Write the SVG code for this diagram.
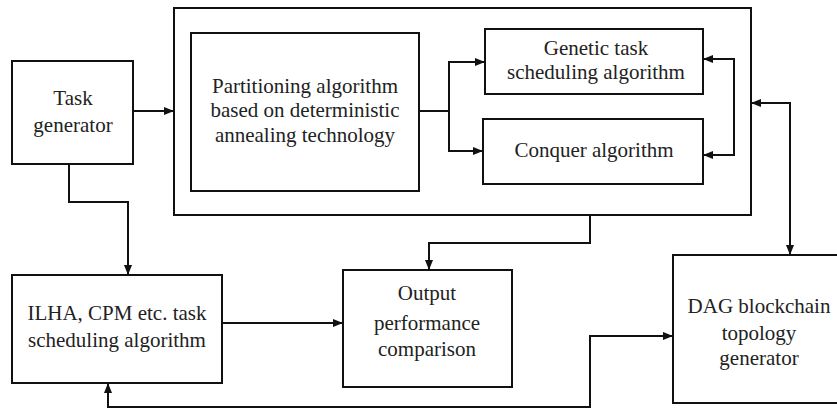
<svg xmlns="http://www.w3.org/2000/svg" width="837" height="409" viewBox="0 0 837 409">
<style>
.box{fill:#fff;stroke:#111;stroke-width:2}
.t{font-family:'Liberation Serif','Times New Roman','DejaVu Serif',serif;font-size:21px;fill:#222;text-anchor:middle}
.c{fill:none;stroke:#111;stroke-width:2}
</style>
<defs>
<marker id="ah" viewBox="0 0 10 8" refX="10" refY="4" markerWidth="10" markerHeight="8" markerUnits="userSpaceOnUse" orient="auto-start-reverse">
<path d="M0,0 L10,4 L0,8 Z" fill="#111"/>
</marker>
</defs>
<rect width="837" height="409" fill="#fff"/>
<g id="outer"><rect class="box" x="174" y="8" width="577" height="207"/></g>
<g id="task-generator"><rect class="box" x="12" y="61" width="121" height="103"/>
<text class="t" font-family="Liberation Serif, serif" x="73" y="105">Task</text><text class="t" font-family="Liberation Serif, serif" x="73" y="132">generator</text></g>
<g id="partitioning"><rect class="box" x="191" y="33" width="228" height="158"/>
<text class="t" x="305" y="93">Partitioning algorithm</text><text class="t" x="305" y="117">based on deterministic</text><text class="t" x="305" y="142">annealing technology</text></g>
<g id="genetic"><rect class="box" x="485" y="29" width="218" height="65"/>
<text class="t" x="596" y="55">Genetic task</text><text class="t" x="596" y="79">scheduling algorithm</text></g>
<g id="conquer"><rect class="box" x="483" y="119" width="220" height="65"/>
<text class="t" x="594" y="157">Conquer algorithm</text></g>
<g id="ilha"><rect class="box" x="12" y="275" width="210" height="108"/>
<text class="t" x="117" y="320">ILHA, CPM etc. task</text><text class="t" x="117" y="347">scheduling algorithm</text></g>
<g id="output"><rect class="box" x="343" y="270" width="169" height="117"/>
<text class="t" x="427" y="300">Output</text><text class="t" x="427" y="330">performance</text><text class="t" x="427" y="356">comparison</text></g>
<g id="dag"><rect class="box" x="673" y="255" width="175" height="148"/>
<text class="t" x="759" y="313">DAG blockchain</text><text class="t" x="759" y="340">topology</text><text class="t" x="759" y="365">generator</text></g>
<g id="connectors">
<path class="c" d="M133,111 H174" marker-end="url(#ah)"/>
<path class="c" d="M69,164 V202 H128 V275" marker-end="url(#ah)"/>
<path class="c" d="M419,111 H449 V62 H485" marker-end="url(#ah)"/>
<path class="c" d="M449,111 V151 H483" marker-end="url(#ah)"/>
<path class="c" d="M703,59 H734 V155 H703" marker-start="url(#ah)" marker-end="url(#ah)"/>
<path class="c" d="M590,215 V243 H429 V270" marker-end="url(#ah)"/>
<path class="c" d="M222,323 H343" marker-end="url(#ah)"/>
<path class="c" d="M751,103 H790 V255" marker-start="url(#ah)" marker-end="url(#ah)"/>
<path class="c" d="M108,383 V407 H590 V336 H673" marker-start="url(#ah)" marker-end="url(#ah)"/>
</g>
</svg>
